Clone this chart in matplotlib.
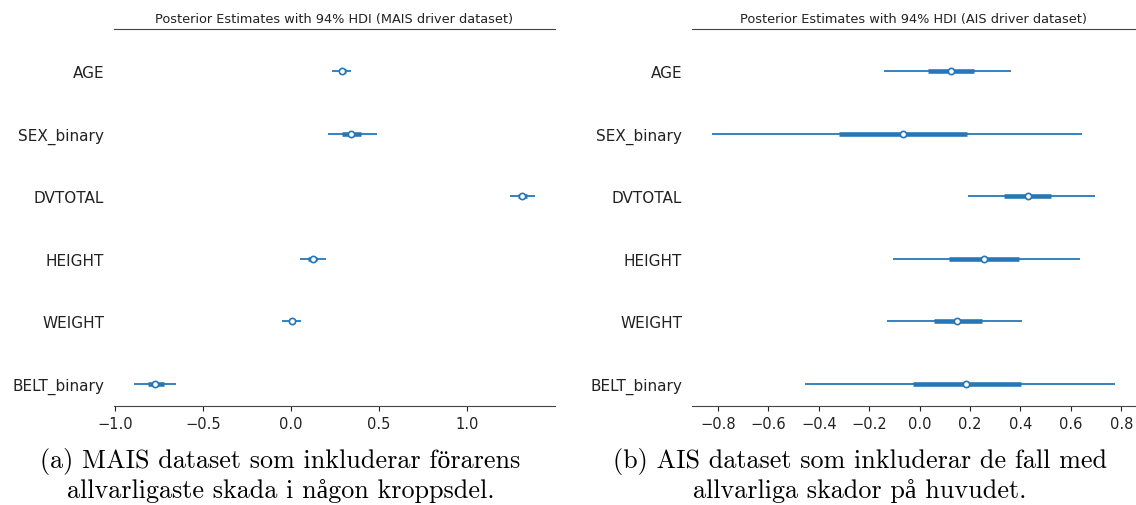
import numpy as np
import matplotlib
matplotlib.use("Agg")
import matplotlib.pyplot as plt

# variable names (top to bottom in the forest plot)
variables = ["AGE", "SEX_binary", "DVTOTAL", "HEIGHT", "WEIGHT", "BELT_binary"]

# MAIS driver dataset: posterior mean, 94% HDI and interquartile range
mais_mean = [0.293, 0.344, 1.314, 0.125, 0.006, -0.769]
mais_hdi_low = [0.236, 0.208, 1.244, 0.053, -0.049, -0.890]
mais_hdi_high = [0.340, 0.488, 1.386, 0.202, 0.060, -0.650]
mais_iqr_low = [0.274, 0.293, 1.289, 0.100, -0.013, -0.811]
mais_iqr_high = [0.312, 0.399, 1.338, 0.151, 0.026, -0.722]

# AIS driver dataset (head injuries)
ais_mean = [0.125, -0.066, 0.430, 0.254, 0.147, 0.185]
ais_hdi_low = [-0.140, -0.823, 0.191, -0.106, -0.131, -0.453]
ais_hdi_high = [0.363, 0.645, 0.694, 0.638, 0.405, 0.775]
ais_iqr_low = [0.034, -0.319, 0.335, 0.115, 0.056, -0.028]
ais_iqr_high = [0.215, 0.188, 0.522, 0.393, 0.248, 0.403]

titles = ["Posterior Estimates with 94% HDI (MAIS driver dataset)",
          "Posterior Estimates with 94% HDI (AIS driver dataset)"]
captions = [("(a) MAIS dataset som inkluderar förarens",
             "allvarligaste skada i någon kroppsdel."),
            ("(b) AIS dataset som inkluderar de fall med",
             "allvarliga skador på huvudet.")]

color = "#2677b8"

fig = plt.figure(figsize=(11.36, 5.06), dpi=100)
ax_left = fig.add_axes([0.1004, 0.1957, 0.3882, 0.7451])
ax_right = fig.add_axes([0.6092, 0.1957, 0.390, 0.7451])


def forest(ax, mean, lo, hi, qlo, qhi, title):
    y = np.arange(len(variables))[::-1]
    ax.hlines(y, lo, hi, color=color, linewidth=1.3)
    ax.hlines(y, qlo, qhi, color=color, linewidth=3.3)
    ax.plot(mean, y, "o", color=color, markerfacecolor="white",
            markersize=4.5, markeredgewidth=1.2, linestyle="none")
    ax.set_yticks(y)
    ax.set_yticklabels(variables, fontsize=11, color="#222222")
    ax.tick_params(axis="y", length=0, pad=7)
    ax.tick_params(axis="x", labelsize=10.5, colors="#222222")
    ax.set_ylim(-0.35, len(variables) - 1 + 0.67)
    for side in ["left", "right"]:
        ax.spines[side].set_visible(False)
    ax.spines["top"].set_color("#444444")
    ax.spines["bottom"].set_color("#444444")
    ax.set_title(title, fontsize=9.3, pad=5, color="#222222")


forest(ax_left, mais_mean, mais_hdi_low, mais_hdi_high,
       mais_iqr_low, mais_iqr_high, titles[0])
forest(ax_right, ais_mean, ais_hdi_low, ais_hdi_high,
       ais_iqr_low, ais_iqr_high, titles[1])

# figure captions under each panel
for xc, (line1, line2) in zip([0.247, 0.757], captions):
    fig.text(xc, 0.087, line1, ha="center", va="center", fontsize=18.8,
             family=["cmr10", "Liberation Serif"])
    fig.text(xc, 0.030, line2, ha="center", va="center", fontsize=18.8,
             family=["cmr10", "Liberation Serif"])

fig.savefig("out.png", dpi=100)
